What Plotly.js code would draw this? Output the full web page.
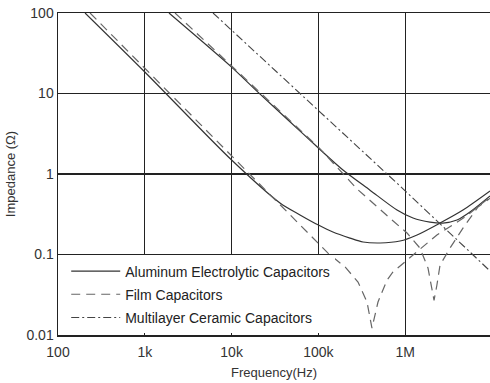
<!DOCTYPE html>
<html>
<head>
<meta charset="utf-8">
<script src="https://cdn.plot.ly/plotly-3.0.1.min.js"></script>
<style>html,body{margin:0;padding:0;background:#fff;}#chart{width:490px;height:383px;}</style>
</head>
<body>
<div id="chart"></div>
<script>
// Tick labels
const xTickVals = [100, 1000, 10000, 100000, 1000000];
const xTickText = ['100', '1k', '10k', '100k', '1M'];
const yTickVals = [0.01, 0.1, 1, 10, 100];
const yTickText = ['0.01', '0.1', '1', '10', '100'];

// Aluminum electrolytic capacitor (larger capacitance)
const aluAFreq = [205, 1000, 10000, 36100, 61400, 100000, 147000, 231000, 327000, 513000, 871000, 1370000, 2520000, 4630000, 9500000];
const aluAZ    = [100, 18.5, 1.49, 0.436, 0.310, 0.232, 0.190, 0.160, 0.143, 0.139, 0.147, 0.175, 0.246, 0.357, 0.615];
// Aluminum electrolytic capacitor (smaller capacitance)
const aluBFreq = [1900, 10000, 20100, 44700, 100000, 192000, 393000, 805000, 1230000, 1930000, 2720000, 3950000, 5580000, 9500000];
const aluBZ    = [100, 21.3, 10.4, 4.69, 2.10, 1.12, 0.63, 0.357, 0.284, 0.253, 0.246, 0.268, 0.337, 0.533];
// Film capacitor (larger capacitance)
const filmAFreq = [234, 10100, 74000, 129000, 203000, 286000, 363000, 414000, 486000, 617000, 723000, 1130000, 2320000, 4890000, 9500000];
const filmAZ    = [100, 1.67, 0.19, 0.104, 0.070, 0.0455, 0.0257, 0.0122, 0.0257, 0.048, 0.0607, 0.0906, 0.175, 0.292, 0.518];
// Film capacitor (smaller capacitance)
const filmBFreq = [2230, 8400, 100000, 279000, 461000, 705000, 1050000, 1480000, 1830000, 1980000, 2150000, 2320000, 2520000, 3280000, 4630000, 6900000, 9500000];
const filmBZ    = [100, 26, 2.16, 0.652, 0.40, 0.268, 0.185, 0.12, 0.068, 0.0418, 0.027, 0.0418, 0.074, 0.12, 0.213, 0.389, 0.50];
// Multilayer ceramic capacitor
const mlccFreq = [6110, 100000, 871000, 9500000];
const mlccZ    = [100, 6.1, 0.71, 0.0624];

const names = ['Aluminum Electrolytic Capacitors', 'Film Capacitors', 'Multilayer Ceramic Capacitors'];

const solid = {color: '#333', width: 1.2, dash: 'solid'};
const dashed = {color: '#666', width: 1.2, dash: '9px,6px'};
const dashdot = {color: '#444', width: 1.1, dash: '8px,3px,2px,3px'};

const traces = [
  {x: aluAFreq, y: aluAZ, mode: 'lines', name: names[0], legendgroup: 'a', line: Object.assign({shape: 'spline', smoothing: 0.8}, solid)},
  {x: aluBFreq, y: aluBZ, mode: 'lines', name: names[0], legendgroup: 'a', showlegend: false, line: Object.assign({shape: 'spline', smoothing: 0.8}, solid)},
  {x: filmAFreq, y: filmAZ, mode: 'lines', name: names[1], legendgroup: 'b', line: dashed},
  {x: filmBFreq, y: filmBZ, mode: 'lines', name: names[1], legendgroup: 'b', showlegend: false, line: dashed},
  {x: mlccFreq, y: mlccZ, mode: 'lines', name: names[2], legendgroup: 'c', line: dashdot}
];

const fontFam = 'Liberation Sans, Arial, Helvetica, sans-serif';

const layout = {
  width: 490, height: 383,
  margin: {l: 58, r: 0, t: 13, b: 48},
  paper_bgcolor: '#fff', plot_bgcolor: '#fff',
  font: {family: fontFam, size: 14, color: '#333'},
  showlegend: true,
  xaxis: {
    type: 'log', range: [2, 6.977],
    tickvals: xTickVals, ticktext: xTickText,
    showgrid: true, gridcolor: '#222', gridwidth: 1.3,
    showline: true, linecolor: '#222', linewidth: 1.5, mirror: true,
    ticks: 'outside', ticklen: 4, tickcolor: 'rgba(0,0,0,0)', zeroline: false,
    tickfont: {size: 14, color: '#333'},
    title: {text: 'Frequency(Hz)', font: {size: 13, color: '#333'}, standoff: 8}
  },
  yaxis: {
    type: 'log', range: [-2, 2],
    tickvals: yTickVals, ticktext: yTickText,
    showgrid: true, gridcolor: '#222', gridwidth: 1.3,
    showline: true, linecolor: '#222', linewidth: 1.5,
    ticks: '', zeroline: false,
    tickfont: {size: 14, color: '#333'},
    title: {text: 'Impedance (Ω)', font: {size: 13, color: '#333'}, standoff: 8}
  },
  legend: {
    x: 0.019, y: 0.247, xanchor: 'left', yanchor: 'top',
    bgcolor: '#fff', borderwidth: 0,
    font: {size: 14, color: '#222', family: fontFam},
    traceorder: 'grouped', tracegroupgap: 2,
    itemwidth: 49
  }
};

Plotly.newPlot('chart', traces, layout, {staticPlot: true, displayModeBar: false});
</script>
</body>
</html>
